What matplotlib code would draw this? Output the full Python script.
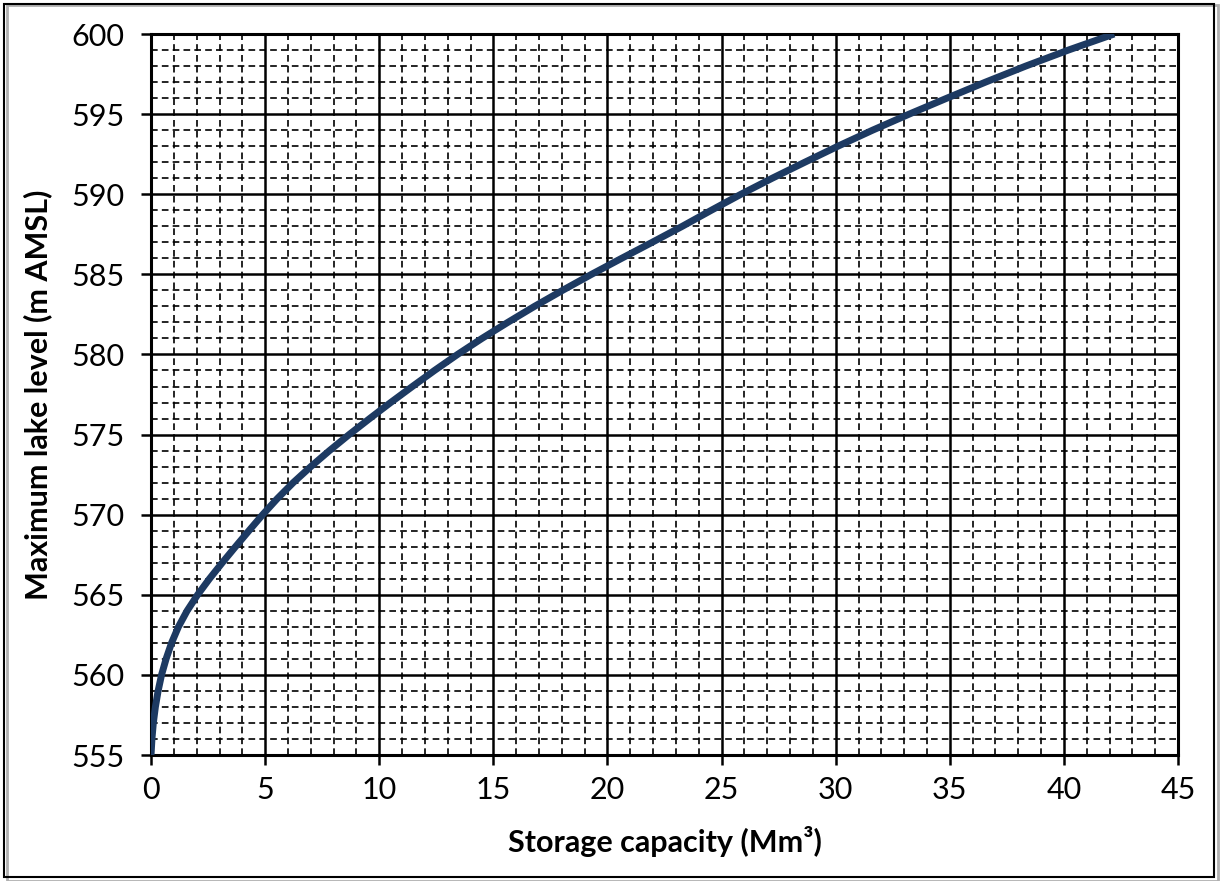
import matplotlib
matplotlib.use('Agg')
import matplotlib.pyplot as plt
from matplotlib.patches import Rectangle
from matplotlib.ticker import MultipleLocator

# storage-level curve
lake_level = [555, 556, 557, 558, 559, 560, 561, 562, 563, 564, 565, 566, 567, 568, 569, 570,
              571, 572, 573, 574, 575, 576, 577, 578, 579, 580, 581, 582, 583, 584, 585, 586,
              587, 588, 589, 590, 591, 592, 593, 594, 595, 596, 597, 598, 599, 600]
storage = [0.0, 0.04, 0.10, 0.19, 0.31, 0.46, 0.66, 0.90, 1.20, 1.58, 2.04, 2.56, 3.12, 3.70, 4.29, 4.89,
           5.53, 6.23, 7.00, 7.82, 8.68, 9.58, 10.50, 11.45, 12.42, 13.43, 14.50, 15.63, 16.80, 18.03, 19.30, 20.62,
           21.96, 23.28, 24.55, 25.85, 27.22, 28.65, 30.10, 31.62, 33.22, 34.88, 36.57, 38.33, 40.20, 42.20]

plt.rcParams['font.family'] = ['Lato', 'DejaVu Sans']

fig = plt.figure(figsize=(12.2, 8.81), dpi=100)
ax = fig.add_axes([0.1238, 0.143, 0.9656 - 0.1238, 0.9614 - 0.143])

ax.plot(storage, lake_level, color='#1d3a62', lw=5.0, solid_capstyle='butt', zorder=5)

ax.set_xlim(0, 45)
ax.set_ylim(555, 600)
ax.xaxis.set_major_locator(MultipleLocator(5))
ax.yaxis.set_major_locator(MultipleLocator(5))
ax.xaxis.set_minor_locator(MultipleLocator(1))
ax.yaxis.set_minor_locator(MultipleLocator(1))

ax.grid(which='major', color='black', lw=1.8, ls='-')
ax.grid(which='minor', color='black', lw=1.2, ls=(0, (4, 2.5)))
ax.set_axisbelow(True)

for s in ax.spines.values():
    s.set_linewidth(2.2)
    s.set_color('black')

ax.tick_params(which='major', direction='out', length=7, width=1.8, labelsize=22)
ax.tick_params(axis='y', pad=12)
ax.tick_params(axis='x', pad=8)
ax.tick_params(which='minor', length=0)

ax.set_xlabel('Storage capacity (Mm³)', fontsize=22, fontweight='bold', labelpad=16)
ax.set_ylabel('Maximum lake level (m AMSL)', fontsize=22, fontweight='bold', labelpad=14)

# chart area border with light shadow
fig.patches.append(Rectangle((0.006, 0.0), 0.992, 0.994, transform=fig.transFigure,
                             fill=False, edgecolor='#b0b0b0', lw=2.0))
fig.patches.append(Rectangle((0.003, 0.004), 0.992, 0.992, transform=fig.transFigure,
                             fill=False, edgecolor='black', lw=1.5))

fig.savefig('out.png', dpi=100)
